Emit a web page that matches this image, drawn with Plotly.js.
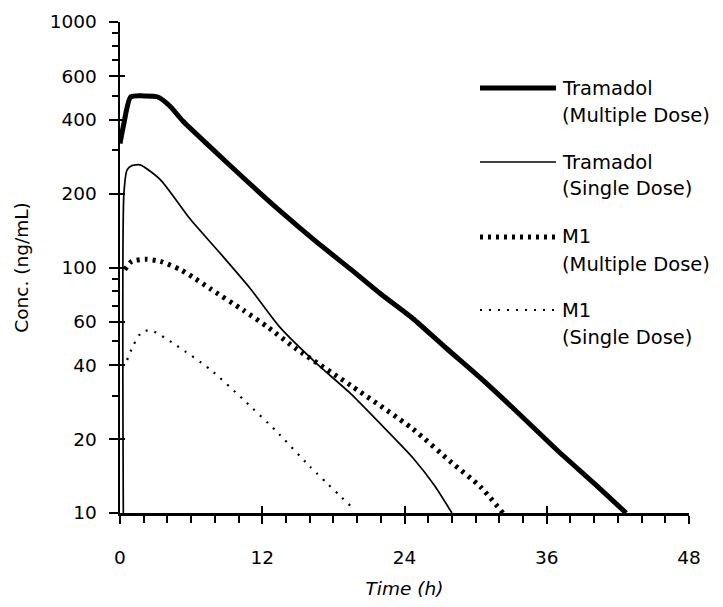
<!DOCTYPE html>
<html>
<head>
<meta charset="utf-8">
<script src="https://cdn.plot.ly/plotly-3.0.1.min.js"></script>
<style>html,body{margin:0;padding:0;background:#fff;}#chart{width:723px;height:607px;}</style>
</head>
<body>
<div id="chart"></div>
<script>
// ---- data ----
const tramMultT = [0, 0.3, 0.9, 2.0, 3.2, 4.2, 5.3, 7.6, 10.4, 13.5, 16.5, 19.5, 22.0, 24.7, 27.5, 30.4, 33.5, 37.0, 40.0, 42.7];
const tramMultC = [320, 380, 495, 500, 495, 455, 395, 310, 232, 170, 128, 98, 78, 62, 47, 35.5, 25.8, 17.8, 13.2, 10];

const tramSingT = [0.28, 0.33, 0.6, 1.0, 1.7, 3.4, 5.9, 8.4, 11.0, 13.5, 16.5, 19.5, 22.0, 24.7, 26.5, 28.0];
const tramSingC = [10, 200, 250, 260, 262, 228, 158, 115, 82, 57, 41, 30.5, 23, 16.8, 13, 10];

const m1MultT = [0.4, 1.0, 2.2, 3.4, 5.1, 6.2, 7.6, 10.4, 12.4, 14.9, 19.5, 24.7, 28.0, 30.4, 32.3];
const m1MultC = [98, 106, 108, 106, 98, 91, 82, 67, 57.5, 46.5, 33, 22, 16.0, 12.8, 10];

const m1SingT = [0.6, 1.1, 1.9, 2.8, 4.8, 7.6, 10.4, 13.2, 16.0, 19.7];
const m1SingC = [42, 48, 55, 55, 48, 38.5, 29, 21.5, 15.5, 10.4];

const seriesNames = ["Tramadol", "Tramadol", "M1", "M1"];
const seriesSub = ["(Multiple Dose)", "(Single Dose)", "(Multiple Dose)", "(Single Dose)"];

const xTickVals = [0, 12, 24, 36, 48];
const xTickText = ["0", "12", "24", "36", "48"];
const yTickVals = [10, 20, 40, 60, 100, 200, 400, 600, 1000];
const yTickText = ["10", "20", "40", "60", "100", "200", "400", "600", "1000"];
const yMinorVals = [30, 50, 70, 80, 90, 300, 500, 700, 800, 900];
const xMinorDtick = 2;

// ---- styles ----
const FONT = "DejaVu Sans, Arial, sans-serif";
const styles = [
  {width: 5, dash: "solid"},
  {width: 1.7, dash: "solid"},
  {width: 5, dash: "3px,5px"},
  {width: 2.2, dash: "2px,7px"}
];

const data = [
  {x: tramMultT, y: tramMultC},
  {x: tramSingT, y: tramSingC},
  {x: m1MultT, y: m1MultC},
  {x: m1SingT, y: m1SingC}
].map((s, i) => ({
  x: s.x, y: s.y, type: "scatter", mode: "lines",
  name: seriesNames[i] + " " + seriesSub[i],
  line: {color: "black", width: styles[i].width, dash: styles[i].dash, shape: "spline", smoothing: 0.6},
  showlegend: false, hoverinfo: "skip"
}));
// empty trace carrying the overlay axes (inner half of the major ticks)
data.push({x: [], y: [], xaxis: "x2", yaxis: "y2", type: "scatter", mode: "lines", showlegend: false, hoverinfo: "skip"});

// ---- custom legend (pixel layout -> paper coords) ----
const L = 120, R = 689, T = 22, B = 513;
const px = v => (v - L) / (R - L);
const py = v => (B - v) / (B - T);
const legRows = [88, 162, 237, 310];
const shapes = [], annotations = [];
legRows.forEach((row, i) => {
  shapes.push({type: "line", xref: "paper", yref: "paper", x0: px(480), x1: px(556), y0: py(row), y1: py(row),
    line: {color: "black", width: styles[i].width, dash: styles[i].dash}});
  annotations.push({xref: "paper", yref: "paper", x: px(560), y: py(row), xanchor: "left", yanchor: "middle",
    text: seriesNames[i], showarrow: false, font: {family: FONT, size: 19.5, color: "black"}});
  annotations.push({xref: "paper", yref: "paper", x: px(560), y: py(row + 27), xanchor: "left", yanchor: "middle",
    text: seriesSub[i], showarrow: false, font: {family: FONT, size: 19.5, color: "black"}});
});

const axisCommon = {showgrid: false, zeroline: false, linecolor: "black", tickcolor: "black", color: "black"};

const layout = {
  width: 723, height: 607,
  margin: {l: L, r: 723 - R, t: T, b: 607 - B, pad: 0},
  paper_bgcolor: "white", plot_bgcolor: "white",
  font: {family: FONT, size: 18, color: "black"},
  showlegend: false,
  xaxis: Object.assign({}, axisCommon, {
    range: [0, 48], tickmode: "array", tickvals: xTickVals, ticktext: xTickText,
    showline: true, linewidth: 2.5, ticks: "outside", ticklen: 8, tickwidth: 2,
    ticklabelstandoff: 18,
    minor: {dtick: xMinorDtick, tick0: 0, ticks: "outside", ticklen: 7, tickwidth: 2, tickcolor: "black"},
    tickfont: {family: FONT, size: 18.5, color: "black"},
    title: {text: "<i>Time (h)</i>", font: {family: FONT, size: 18.5, color: "black"}, standoff: 16},
    automargin: false
  }),
  yaxis: Object.assign({}, axisCommon, {
    type: "log", range: [1, 3], tickmode: "array", tickvals: yTickVals, ticktext: yTickText,
    showline: true, linewidth: 2.5, ticks: "outside", ticklen: 9, tickwidth: 2,
    ticklabelstandoff: 8,
    minor: {tickmode: "array", tickvals: yMinorVals, ticks: "outside", ticklen: 6, tickwidth: 2, tickcolor: "black"},
    tickfont: {family: FONT, size: 18.5, color: "black"},
    title: {text: "Conc. (ng/mL)", font: {family: FONT, size: 18.5, color: "black"}, standoff: 16},
    automargin: false
  }),
  xaxis2: Object.assign({}, axisCommon, {
    overlaying: "x", anchor: "y2", range: [0, 48], tickmode: "array", tickvals: xTickVals,
    ticks: "inside", ticklen: 7, tickwidth: 2, showticklabels: false, showline: false
  }),
  yaxis2: Object.assign({}, axisCommon, {
    overlaying: "y", anchor: "x2", type: "log", range: [1, 3], tickmode: "array", tickvals: yTickVals,
    ticks: "inside", ticklen: 5, tickwidth: 2, showticklabels: false, showline: false
  }),
  shapes: shapes,
  annotations: annotations
};

Plotly.newPlot("chart", data, layout, {staticPlot: true, displayModeBar: false});
</script>
</body>
</html>
